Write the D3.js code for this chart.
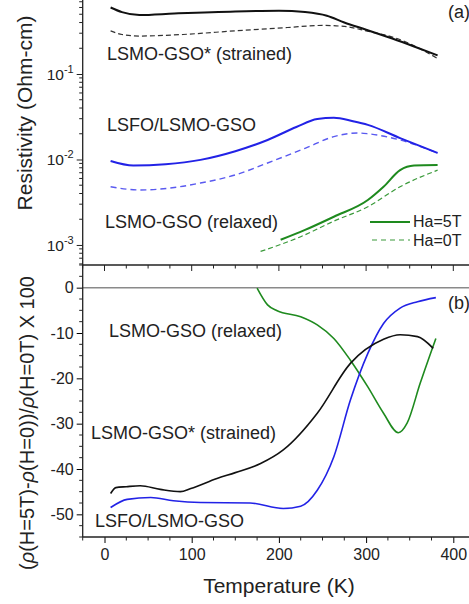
<!DOCTYPE html>
<html>
<head>
<meta charset="utf-8">
<script src="https://cdn.jsdelivr.net/npm/d3@7"></script>
<style>
body { margin: 0; background: #fff; }
text { font-family: "Liberation Sans", Arial, sans-serif; fill: #222; }
</style>
</head>
<body>
<svg id="chart" width="469" height="604"></svg>
<script>
// top panel (a): resistivity, log scale
var strained5T_T = [7, 20, 40, 80, 150, 200, 230, 255, 275, 300, 330, 355, 382];
var strained5T_R = [0.60, 0.53, 0.49, 0.51, 0.54, 0.55, 0.53, 0.48, 0.40, 0.33, 0.26, 0.21, 0.165];
var strained0T_T = [7, 20, 40, 90, 150, 210, 250, 275, 300, 340, 365, 382];
var strained0T_R = [0.32, 0.29, 0.278, 0.29, 0.32, 0.35, 0.37, 0.36, 0.32, 0.25, 0.19, 0.152];
var lsfo5T_T = [7, 33, 70, 110, 150, 187, 220, 244, 263, 285, 302, 339, 382];
var lsfo5T_R = [0.0096, 0.0085, 0.0088, 0.0099, 0.0125, 0.0169, 0.024, 0.0298, 0.0308, 0.028, 0.0254, 0.0178, 0.0119];
var lsfo0T_T = [7, 40, 80, 110, 150, 187, 230, 263, 290, 302, 339, 382];
var lsfo0T_R = [0.0048, 0.0044, 0.0047, 0.0053, 0.0066, 0.0091, 0.0135, 0.0185, 0.0204, 0.02, 0.0169, 0.0119];
var relaxed5T_T = [202, 230, 263, 302, 320, 339, 355, 382];
var relaxed5T_R = [0.00115, 0.0015, 0.00214, 0.00336, 0.0048, 0.0075, 0.0085, 0.0086];
var relaxed0T_T = [179, 225, 263, 302, 339, 382];
var relaxed0T_R = [0.00084, 0.00125, 0.0019, 0.0028, 0.0048, 0.0075];

// bottom panel (b): magnetoresistance (%)
var strainedMR_T = [7, 13, 25, 41, 64, 87, 99, 129, 150, 179, 205, 244, 282, 320, 339, 359, 377];
var strainedMR_V = [-45.4, -44.1, -43.9, -43.7, -44.5, -45.0, -44.3, -42.1, -40.8, -38.8, -35.8, -27.7, -16.7, -11.4, -10.4, -10.8, -13.4];
var lsfoMR_T = [7, 26, 53, 79, 110, 167, 205, 225, 244, 263, 282, 302, 320, 339, 359, 380];
var lsfoMR_V = [-48.5, -46.7, -46.3, -47.0, -47.4, -47.5, -48.7, -48.2, -44.7, -37.3, -24.8, -14.5, -7.9, -4.5, -3.1, -2.2];
var relaxedMR_T = [175, 187, 198, 225, 244, 263, 282, 302, 320, 337, 347, 362, 380];
var relaxedMR_V = [-0.1, -3.8, -5.1, -6.4, -8.2, -11.2, -16.0, -21.9, -27.7, -32.0, -29.9, -21.1, -11.2];

var xTicks = [0, 100, 200, 300, 400];
var logTicks = [1e-3, 1e-2, 1e-1];
var mrTicks = [0, -10, -20, -30, -40, -50];

var svg = d3.select("#chart");
var left = 82.7;

var x = d3.scaleLinear().domain([-25, 425]).range([left, left + 450 * 0.872]);
var yTop = d3.scaleLog().domain([5.83e-4, 0.734]).range([265, 0]);
var yBot = d3.scaleLinear().domain([-55, 5]).range([537, 265]);

var black = "#111", blue = "#2222e6", green = "#1e8a1e";

function zip(ts, vs) { return ts.map(function (t, i) { return [t, vs[i]]; }); }

function drawLine(yScale, ts, vs, color, width, dash) {
	var line = d3.line()
		.x(function (d) { return x(d[0]); })
		.y(function (d) { return yScale(d[1]); })
		.curve(d3.curveMonotoneX);
	svg.append("path")
		.datum(zip(ts, vs))
		.attr("d", line)
		.attr("fill", "none")
		.attr("stroke", color)
		.attr("stroke-width", width)
		.attr("stroke-dasharray", dash || null);
}

function label(tx, ty, s, size) {
	return svg.append("text").attr("x", tx).attr("y", ty).style("font-size", (size || 18) + "px").text(s);
}

// ---- panel (a)
drawLine(yTop, strained0T_T, strained0T_R, "#333", 1.2, "5,3");
drawLine(yTop, strained5T_T, strained5T_R, black, 2);
drawLine(yTop, lsfo0T_T, lsfo0T_R, "#5a5af0", 1.4, "6,4");
drawLine(yTop, lsfo5T_T, lsfo5T_R, blue, 2);
drawLine(yTop, relaxed0T_T, relaxed0T_R, "#3a9a3a", 1.2, "5,3");
drawLine(yTop, relaxed5T_T, relaxed5T_R, green, 2);

// log axis with minor ticks
var minorLog = [];
[1e-4, 1e-3, 1e-2, 1e-1].forEach(function (b) {
	for (var k = 2; k <= 9; k++) {
		var v = b * k;
		if (v > 5.83e-4 && v < 0.734) minorLog.push(v);
	}
});
var gTop = svg.append("g").attr("transform", "translate(" + left + ",0)");
gTop.call(d3.axisLeft(yTop).tickValues(logTicks).tickSize(6).tickFormat(""));
gTop.select(".domain").remove();
gTop.selectAll("line").attr("stroke", "#222");
gTop.selectAll(".minor").data(minorLog).enter().append("line")
	.attr("x1", -3.5).attr("x2", 0)
	.attr("y1", function (d) { return yTop(d); })
	.attr("y2", function (d) { return yTop(d); })
	.attr("stroke", "#222");
logTicks.forEach(function (v) {
	var t = gTop.append("text")
		.attr("x", -9).attr("y", yTop(v) + 6)
		.attr("text-anchor", "end")
		.style("font-size", "15.5px");
	t.append("tspan").text("10");
	t.append("tspan").attr("dy", -7).style("font-size", "11px").text(String(Math.round(Math.log10(v))));
});

// x axis between panels (ticks pointing down)
var xMinor = d3.range(-25, 426, 25);
svg.append("g").selectAll("line").data(xMinor).enter().append("line")
	.attr("x1", function (d) { return x(d); })
	.attr("x2", function (d) { return x(d); })
	.attr("y1", 265)
	.attr("y2", function (d) { return d % 100 === 0 ? 271 : 268.5; })
	.attr("stroke", "#222");

label(448, 18, "(a)");
label(107, 60, "LSMO-GSO* (strained)");
label(107, 131, "LSFO/LSMO-GSO");
label(105, 228, "LSMO-GSO (relaxed)");

// legend
svg.append("line").attr("x1", 370).attr("x2", 410).attr("y1", 222).attr("y2", 222)
	.attr("stroke", green).attr("stroke-width", 2);
label(413, 227, "Ha=5T", 16);
svg.append("line").attr("x1", 372).attr("x2", 410).attr("y1", 240).attr("y2", 240)
	.attr("stroke", "#3a9a3a").attr("stroke-width", 1.2).attr("stroke-dasharray", "5,4");
label(413, 246, "Ha=0T", 16);

// ---- panel (b)
svg.append("line").attr("x1", left).attr("x2", 469)
	.attr("y1", yBot(0)).attr("y2", yBot(0))
	.attr("stroke", "#8a8a8a").attr("stroke-width", 1.5);

drawLine(yBot, relaxedMR_T, relaxedMR_V, green, 1.6);
drawLine(yBot, lsfoMR_T, lsfoMR_V, blue, 1.6);
drawLine(yBot, strainedMR_T, strainedMR_V, black, 1.6);

var gBot = svg.append("g").attr("transform", "translate(" + left + ",0)");
gBot.call(d3.axisLeft(yBot).tickValues(mrTicks).tickSize(6).tickPadding(3)
	.tickFormat(function (d) { return String(d); }));
gBot.select(".domain").remove();
gBot.selectAll("text").style("font-size", "16px");
gBot.selectAll(".minor").data(d3.range(-55, 5.1, 2.5).filter(function (d) { return d % 10 !== 0; }))
	.enter().append("line")
	.attr("x1", -3.5).attr("x2", 0)
	.attr("y1", function (d) { return yBot(d); })
	.attr("y2", function (d) { return yBot(d); })
	.attr("stroke", "#222");

var gX = svg.append("g").attr("transform", "translate(0,537)");
gX.call(d3.axisBottom(x).tickValues(xTicks).tickSize(6).tickPadding(6));
gX.select(".domain").remove();
gX.selectAll("text").style("font-size", "16px");
gX.selectAll(".minor").data(xMinor.filter(function (d) { return d % 100 !== 0; }))
	.enter().append("line")
	.attr("x1", function (d) { return x(d); })
	.attr("x2", function (d) { return x(d); })
	.attr("y1", 0).attr("y2", 3.5)
	.attr("stroke", "#222");

// frame lines
svg.append("line").attr("x1", left).attr("x2", left).attr("y1", 0).attr("y2", 537).attr("stroke", "#222").attr("stroke-width", 1.3);
svg.append("line").attr("x1", left).attr("x2", 469).attr("y1", 265).attr("y2", 265).attr("stroke", "#222").attr("stroke-width", 1.5);
svg.append("line").attr("x1", left).attr("x2", 469).attr("y1", 537).attr("y2", 537).attr("stroke", "#222").attr("stroke-width", 1.3);

label(448, 309, "(b)");
label(109, 337, "LSMO-GSO (relaxed)");
label(91, 439, "LSMO-GSO* (strained)");
label(95, 527, "LSFO/LSMO-GSO");

// axis titles
svg.append("text").attr("transform", "translate(32,113) rotate(-90)")
	.attr("text-anchor", "middle").style("font-size", "21px").text("Resistivity (Ohm-cm)");
var yl = svg.append("text").attr("transform", "translate(34,423) rotate(-90)")
	.attr("text-anchor", "middle").style("font-size", "20px");
yl.append("tspan").text("(");
yl.append("tspan").style("font-style", "italic").text("ρ");
yl.append("tspan").text("(H=5T)-");
yl.append("tspan").style("font-style", "italic").text("ρ");
yl.append("tspan").text("(H=0))/");
yl.append("tspan").style("font-style", "italic").text("ρ");
yl.append("tspan").text("(H=0T) X 100");
svg.append("text").attr("x", 279).attr("y", 593).attr("text-anchor", "middle")
	.style("font-size", "21px").text("Temperature (K)");
</script>
</body>
</html>
